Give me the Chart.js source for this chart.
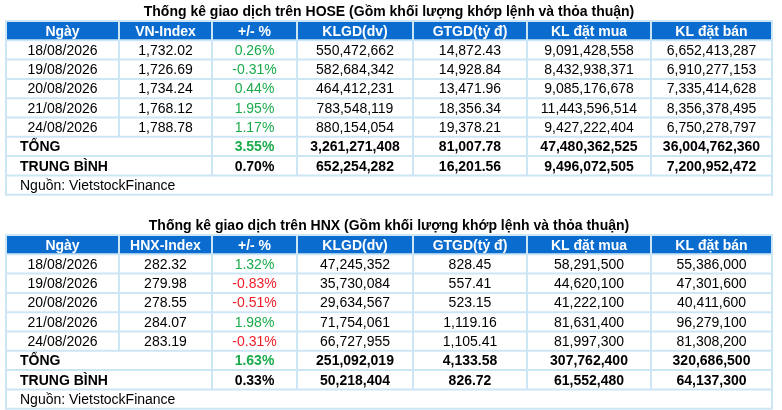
<!DOCTYPE html>
<html><head><meta charset="utf-8">
<script src="https://cdn.jsdelivr.net/npm/chart.js@4"></script>
<style>html,body{margin:0;padding:0;background:#fff}#c{display:block}</style>
</head><body>
<div style="width:782px;height:410px"><canvas id="c"></canvas></div>
<script>
const hoseTitle = "Thống kê giao dịch trên HOSE (Gồm khối lượng khớp lệnh và thỏa thuận)";
const hnxTitle = "Thống kê giao dịch trên HNX (Gồm khối lượng khớp lệnh và thỏa thuận)";
const hoseHeaders = ["Ngày","VN-Index","+/- %","KLGD(dv)","GTGD(tỷ đ)","KL đặt mua","KL đặt bán"];
const hnxHeaders = ["Ngày","HNX-Index","+/- %","KLGD(dv)","GTGD(tỷ đ)","KL đặt mua","KL đặt bán"];
const dates = ["18/08/2026","19/08/2026","20/08/2026","21/08/2026","24/08/2026"];
const hoseIndex = ["1,732.02","1,726.69","1,734.24","1,768.12","1,788.78"];
const hoseChange = [0.26,-0.31,0.44,1.95,1.17];
const hoseVol = ["550,472,662","582,684,342","464,412,231","783,548,119","880,154,054"];
const hoseVal = ["14,872.43","14,928.84","13,471.96","18,356.34","19,378.21"];
const hoseBuy = ["9,091,428,558","8,432,938,371","9,085,176,678","11,443,596,514","9,427,222,404"];
const hoseSell = ["6,652,413,287","6,910,277,153","7,335,414,628","8,356,378,495","6,750,278,797"];
const hoseTotal = ["3.55%","3,261,271,408","81,007.78","47,480,362,525","36,004,762,360"];
const hoseAvg = ["0.70%","652,254,282","16,201.56","9,496,072,505","7,200,952,472"];
const hnxIndex = ["282.32","279.98","278.55","284.07","283.19"];
const hnxChange = [1.32,-0.83,-0.51,1.98,-0.31];
const hnxVol = ["47,245,352","35,730,084","29,634,567","71,754,061","66,727,955"];
const hnxVal = ["828.45","557.41","523.15","1,119.16","1,105.41"];
const hnxBuy = ["58,291,500","44,620,100","41,222,100","81,631,400","81,997,300"];
const hnxSell = ["55,386,000","47,301,600","40,411,600","96,279,100","81,308,200"];
const hnxTotal = ["1.63%","251,092,019","4,133.58","307,762,400","320,686,500"];
const hnxAvg = ["0.33%","50,218,404","826.72","61,552,480","64,137,300"];
const source = "Nguồn: VietstockFinance";

const green="#1aab4b", red="#f01e28";
const hoseColors = [green,green,green,green,green];
const hnxColors = [green,red,red,green,red];
const cols = [6,119,212,297,413,527,651,772];
function drawTable(ctx, top, title, headers, idx, chg, colors, vol, val, buy, sell, tot, avg){
  const rh = 19.3;
  ctx.textBaseline = "middle";
  ctx.fillStyle = "#000"; ctx.font = "bold 14px Arial, 'Liberation Sans'"; ctx.textAlign = "center";
  ctx.fillText(title, 389, top+7);
  const y0 = top+16;
  const nRows = 9;
  ctx.fillStyle = "#0b6ccf";
  ctx.fillRect(cols[0], y0, cols[7]-cols[0], rh);
  ctx.fillStyle = "#fff"; ctx.font = "bold 14px Arial, 'Liberation Sans'";
  headers.forEach((h,i)=>ctx.fillText(h,(cols[i]+cols[i+1])/2, y0+rh/2+1));
  ctx.font = "14px Arial, 'Liberation Sans'";
  for(let r=0;r<5;r++){
    const y = y0+rh*(r+1)+rh/2+1;
    const cells=[dates[r],idx[r],(chg[r]).toFixed(2)+"%",vol[r],val[r],buy[r],sell[r]];
    cells.forEach((t,i)=>{ctx.fillStyle = i==2?colors[r]:"#000"; ctx.fillText(t,(cols[i]+cols[i+1])/2,y);});
  }
  ctx.font = "bold 14px Arial, 'Liberation Sans'";
  [["TỔNG",tot,true],["TRUNG BÌNH",avg,false]].forEach(([lab,arr,g],k)=>{
    const y = y0+rh*(6+k)+rh/2+1;
    ctx.textAlign="left"; ctx.fillStyle="#000"; ctx.fillText(lab,cols[0]+14,y);
    ctx.textAlign="center";
    arr.forEach((t,i)=>{ctx.fillStyle=(i==0&&g)?green:"#000"; ctx.fillText(t,(cols[i+2]+cols[i+3])/2,y);});
  });
  ctx.font = "14px Arial, 'Liberation Sans'"; ctx.textAlign="left"; ctx.fillStyle="#000";
  ctx.fillText(source, cols[0]+14, y0+rh*8+rh/2+1);
  ctx.textAlign="center";
  ctx.strokeStyle="#cde6f6"; ctx.lineWidth=2;
  ctx.strokeRect(cols[0], y0, cols[7]-cols[0], rh*nRows);
  for(let r=1;r<nRows;r++){ctx.beginPath();ctx.moveTo(cols[0],y0+rh*r);ctx.lineTo(cols[7],y0+rh*r);ctx.stroke();}
  for(let i=1;i<7;i++){
    const end = (i==1)? y0+rh*6 : y0+rh*8;
    ctx.beginPath();ctx.moveTo(cols[i],y0);ctx.lineTo(cols[i],end);ctx.stroke();
  }
}
const tablePlugin = {id:"tables", afterDraw(chart){
  const ctx = chart.ctx; ctx.save();
  drawTable(ctx, 5, hoseTitle, hoseHeaders, hoseIndex, hoseChange, hoseColors, hoseVol, hoseVal, hoseBuy, hoseSell, hoseTotal, hoseAvg);
  drawTable(ctx, 219, hnxTitle, hnxHeaders, hnxIndex, hnxChange, hnxColors, hnxVol, hnxVal, hnxBuy, hnxSell, hnxTotal, hnxAvg);
  ctx.restore();
}};
new Chart(document.getElementById("c"), {
  type:"bar",
  data:{labels:dates, datasets:[{data:hoseChange, backgroundColor:"rgba(0,0,0,0)"}]},
  options:{responsive:true, maintainAspectRatio:false, animation:false, devicePixelRatio:1,
    plugins:{legend:{display:false},tooltip:{enabled:false}},
    scales:{x:{display:false},y:{display:false}}},
  plugins:[tablePlugin]
});
</script></body></html>
